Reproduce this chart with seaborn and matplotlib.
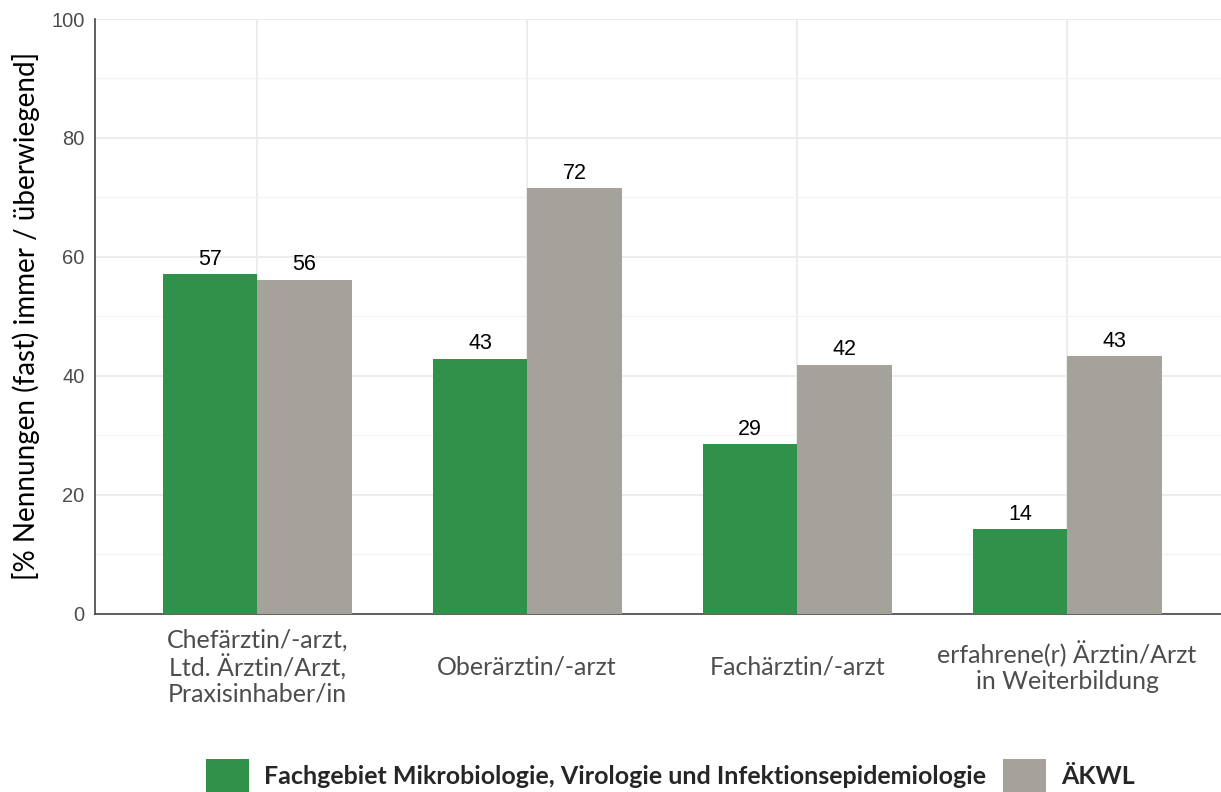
import pandas as pd
import seaborn as sns
import matplotlib.pyplot as plt
from matplotlib.patches import Patch

# Werte
categories = ["Chefärztin/-arzt,\nLtd. Ärztin/Arzt,\nPraxisinhaber/in",
              "Oberärztin/-arzt",
              "Fachärztin/-arzt",
              "erfahrene(r) Ärztin/Arzt\nin Weiterbildung"]
groups = ["Fachgebiet Mikrobiologie, Virologie und Infektionsepidemiologie", "ÄKWL"]
values_mikro = [57.1, 42.9, 28.6, 14.3]
values_aekwl = [56.2, 71.6, 41.9, 43.3]
colors = ["#30924A", "#A5A29B"]

df = pd.DataFrame({
    "Kategorie": categories * 2,
    "Gruppe": [groups[0]] * 4 + [groups[1]] * 4,
    "Wert": values_mikro + values_aekwl,
})

sns.set_style("white")
plt.rcParams['font.family'] = ['Liberation Sans', 'DejaVu Sans']
calibri_like = ["Lato", "DejaVu Sans"]

fig, ax = plt.subplots(figsize=(12.21, 7.92), dpi=100)
fig.subplots_adjust(left=0.078, right=1.0, top=0.976, bottom=0.225)

sns.barplot(data=df, x="Kategorie", y="Wert", hue="Gruppe", order=categories,
            hue_order=groups, palette=colors, width=0.7, saturation=1,
            linewidth=0, ax=ax, legend=False, zorder=3)

for cont in ax.containers:
    ax.bar_label(cont, labels=[f"{v:.0f}" for v in cont.datavalues],
                 padding=3, fontsize=15.5, color="black")

ax.set_ylim(0, 100)
ax.set_xlim(-0.6, 3.57)
ax.set_yticks([0, 20, 40, 60, 80, 100])
ax.set_yticks([10, 30, 50, 70, 90], minor=True)
ax.grid(True, which="major", color="#EBEBEB", lw=1.3, zorder=0)
ax.grid(True, which="minor", axis="y", color="#F3F3F3", lw=0.9, zorder=0)
ax.set_axisbelow(True)

for s in ["top", "right"]:
    ax.spines[s].set_visible(False)
for s in ["left", "bottom"]:
    ax.spines[s].set_color("#444444")
    ax.spines[s].set_linewidth(1.2)

ax.tick_params(axis="both", which="major", length=4.3, width=1.1, color="#444444",
               labelcolor="#4D4D4D", labelsize=14.5)
ax.tick_params(axis="x", which="major", pad=34)
ax.tick_params(axis="y", which="minor", length=0)
for lab in ax.get_xticklabels():
    lab.set_family(calibri_like)
    lab.set_fontsize(18)
    lab.set_linespacing(1.12)
    lab.set_verticalalignment("center")

ax.set_xlabel("")
ax.set_ylabel("[% Nennungen (fast) immer / überwiegend]", fontsize=20, color="black",
              labelpad=8, family=calibri_like)

handles = [Patch(facecolor=c, edgecolor="none") for c in colors]
fig.legend(handles, groups, loc="center", bbox_to_anchor=(0.549, 0.021), ncol=2,
           frameon=False, handlelength=1.72, handleheight=1.65, columnspacing=0.7,
           handletextpad=0.6, prop={"family": calibri_like, "weight": "bold", "size": 18})

fig.savefig("out.png", dpi=100)
